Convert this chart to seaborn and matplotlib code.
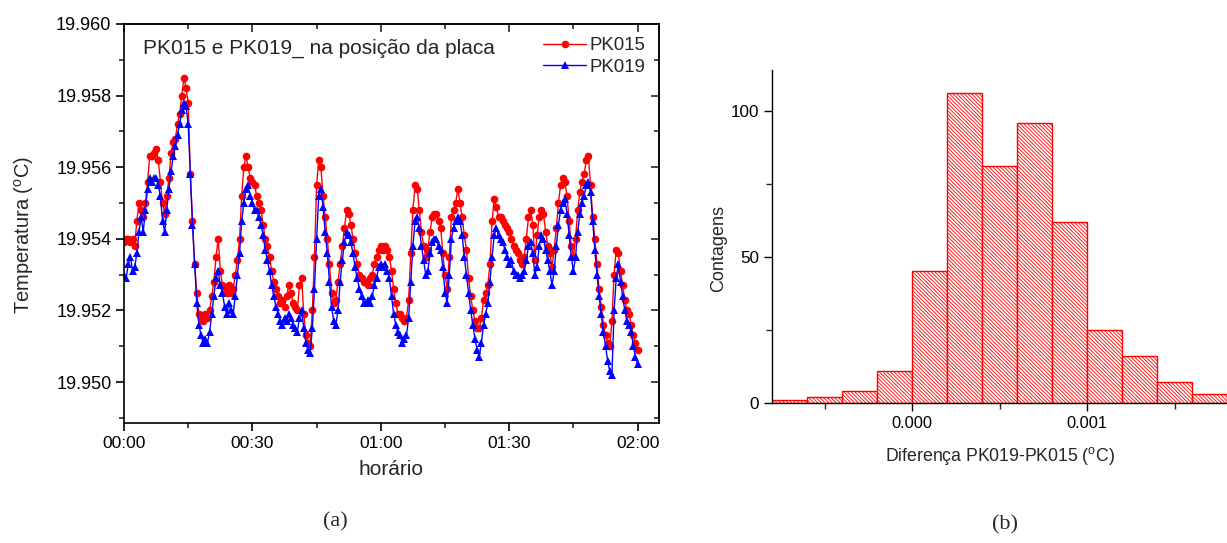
import numpy as np
import pandas as pd
import matplotlib
matplotlib.use("Agg")
import matplotlib.pyplot as plt
import seaborn as sns
from matplotlib.ticker import MultipleLocator, FuncFormatter, FixedLocator

# ---------------- data ----------------
sample_step_min = 0.5
pk015 = [
    19.9539, 19.9540, 19.9540, 19.9539, 19.9540, 19.9538, 19.9545, 19.9550, 19.9548, 19.9546,
    19.9550, 19.9556, 19.9563, 19.9563, 19.9564, 19.9565, 19.9562, 19.9556, 19.9550, 19.9547,
    19.9552, 19.9557, 19.9564, 19.9567, 19.9568, 19.9572, 19.9575, 19.9580, 19.9585, 19.9582,
    19.9578, 19.9558, 19.9545, 19.9533, 19.9525, 19.9519, 19.9518, 19.9517, 19.9519, 19.9518,
    19.9520, 19.9524, 19.9528, 19.9535, 19.9540, 19.9531, 19.9527, 19.9526, 19.9525, 19.9527,
    19.9525, 19.9526, 19.9530, 19.9534, 19.9540, 19.9552, 19.9560, 19.9563, 19.9560, 19.9557,
    19.9556, 19.9555, 19.9552, 19.9550, 19.9548, 19.9544, 19.9540, 19.9538, 19.9535, 19.9531,
    19.9528, 19.9526, 19.9524, 19.9522, 19.9523, 19.9521, 19.9524, 19.9527, 19.9525, 19.9522,
    19.9521, 19.9520, 19.9527, 19.9529, 19.9519, 19.9513, 19.9511, 19.9510, 19.9520, 19.9535,
    19.9555, 19.9562, 19.9560, 19.9552, 19.9546, 19.9540, 19.9533, 19.9525, 19.9522, 19.9523,
    19.9528, 19.9533, 19.9538, 19.9543, 19.9548, 19.9547, 19.9544, 19.9540, 19.9536, 19.9533,
    19.9530, 19.9529, 19.9528, 19.9528, 19.9527, 19.9529, 19.9530, 19.9533, 19.9535, 19.9537,
    19.9538, 19.9537, 19.9538, 19.9537, 19.9535, 19.9531, 19.9526, 19.9522, 19.9519, 19.9519,
    19.9518, 19.9517, 19.9518, 19.9523, 19.9536, 19.9548, 19.9555, 19.9554, 19.9548, 19.9542,
    19.9538, 19.9535, 19.9537, 19.9542, 19.9546, 19.9547, 19.9547, 19.9545, 19.9543, 19.9536,
    19.9530, 19.9526, 19.9535, 19.9546, 19.9548, 19.9550, 19.9554, 19.9550, 19.9546, 19.9541,
    19.9537, 19.9529, 19.9524, 19.9520, 19.9517, 19.9515, 19.9515, 19.9518, 19.9523, 19.9525,
    19.9527, 19.9533, 19.9545, 19.9551, 19.9549, 19.9546, 19.9546, 19.9545, 19.9544, 19.9543,
    19.9542, 19.9540, 19.9538, 19.9537, 19.9536, 19.9534, 19.9533, 19.9535, 19.9540, 19.9546,
    19.9548, 19.9544, 19.9534, 19.9541, 19.9546, 19.9548, 19.9547, 19.9542, 19.9538, 19.9536,
    19.9532, 19.9537, 19.9543, 19.9550, 19.9555, 19.9557, 19.9556, 19.9552, 19.9545, 19.9538,
    19.9535, 19.9540, 19.9548, 19.9553, 19.9556, 19.9558, 19.9562, 19.9563, 19.9555, 19.9546,
    19.9540, 19.9533, 19.9526, 19.9521, 19.9516, 19.9513, 19.9511, 19.9510, 19.9517, 19.9530,
    19.9537, 19.9536, 19.9531, 19.9527, 19.9523, 19.9520, 19.9519, 19.9516, 19.9513, 19.9511,
    19.9509,
]
pk019 = [
    19.9530, 19.9529, 19.9533, 19.9535, 19.9531, 19.9532, 19.9536, 19.9542, 19.9546, 19.9542,
    19.9548, 19.9554, 19.9557, 19.9556, 19.9557, 19.9557, 19.9555, 19.9552, 19.9545, 19.9542,
    19.9548, 19.9554, 19.9559, 19.9563, 19.9566, 19.9569, 19.9572, 19.9576, 19.9578, 19.9577,
    19.9572, 19.9558, 19.9544, 19.9533, 19.9522, 19.9516, 19.9513, 19.9511, 19.9512, 19.9511,
    19.9514, 19.9519, 19.9524, 19.9529, 19.9531, 19.9527, 19.9525, 19.9521, 19.9519, 19.9522,
    19.9520, 19.9519, 19.9524, 19.9530, 19.9536, 19.9545, 19.9550, 19.9554, 19.9555, 19.9552,
    19.9550, 19.9548, 19.9548, 19.9546, 19.9544, 19.9541, 19.9537, 19.9534, 19.9531, 19.9527,
    19.9524, 19.9521, 19.9519, 19.9517, 19.9516, 19.9518, 19.9517, 19.9519, 19.9518, 19.9516,
    19.9515, 19.9514, 19.9518, 19.9520, 19.9515, 19.9511, 19.9509, 19.9508, 19.9515, 19.9526,
    19.9540, 19.9552, 19.9554, 19.9549, 19.9542, 19.9536, 19.9528, 19.9521, 19.9517, 19.9516,
    19.9520, 19.9528, 19.9534, 19.9539, 19.9542, 19.9541, 19.9539, 19.9536, 19.9532, 19.9529,
    19.9526, 19.9524, 19.9522, 19.9522, 19.9523, 19.9522, 19.9524, 19.9527, 19.9529, 19.9532,
    19.9533, 19.9532, 19.9533, 19.9531, 19.9529, 19.9524, 19.9519, 19.9516, 19.9514, 19.9513,
    19.9511, 19.9512, 19.9513, 19.9518, 19.9528, 19.9538, 19.9545, 19.9546, 19.9543, 19.9538,
    19.9534, 19.9530, 19.9531, 19.9536, 19.9539, 19.9540, 19.9540, 19.9538, 19.9537, 19.9532,
    19.9525, 19.9522, 19.9530, 19.9540, 19.9543, 19.9545, 19.9546, 19.9545, 19.9541, 19.9535,
    19.9530, 19.9525, 19.9520, 19.9516, 19.9512, 19.9509, 19.9507, 19.9511, 19.9516, 19.9519,
    19.9522, 19.9528, 19.9535, 19.9541, 19.9543, 19.9541, 19.9540, 19.9539, 19.9537, 19.9535,
    19.9533, 19.9534, 19.9531, 19.9530, 19.9530, 19.9529, 19.9530, 19.9531, 19.9534, 19.9538,
    19.9539, 19.9536, 19.9530, 19.9532, 19.9538, 19.9541, 19.9540, 19.9537, 19.9534, 19.9531,
    19.9527, 19.9531, 19.9538, 19.9544, 19.9548, 19.9550, 19.9551, 19.9547, 19.9541, 19.9535,
    19.9531, 19.9535, 19.9542, 19.9547, 19.9550, 19.9552, 19.9555, 19.9556, 19.9553, 19.9545,
    19.9537, 19.9530, 19.9524, 19.9519, 19.9514, 19.9510, 19.9506, 19.9503, 19.9502, 19.9520,
    19.9529, 19.9533, 19.9528, 19.9524, 19.9520, 19.9517, 19.9516, 19.9514, 19.9510, 19.9507,
    19.9505,
]
time_min = np.arange(len(pk015)) * sample_step_min
time_tick_labels = ["00:00", "00:30", "01:00", "01:30", "02:00"]

hist_edges = [-0.0008, -0.0006, -0.0004, -0.0002, 0.0, 0.0002, 0.0004,
              0.0006, 0.0008, 0.0010, 0.0012, 0.0014, 0.0016, 0.0018]
hist_counts = [1, 2, 4, 11, 45, 106, 81, 96, 62, 25, 16, 7, 3]

# ---------------- style ----------------
sns.set_theme(style="ticks")
plt.rcParams["font.family"] = ["Liberation Sans", "DejaVu Sans"]
plt.rcParams["mathtext.fontset"] = "custom"
plt.rcParams["mathtext.rm"] = "Liberation Sans"
plt.rcParams["mathtext.it"] = "Liberation Sans:italic"
plt.rcParams["hatch.linewidth"] = 0.6
plt.rcParams["axes.linewidth"] = 1.2

W, H = 1227, 543
fig = plt.figure(figsize=(W / 100, H / 100), dpi=100)

# ---------------- panel (a) ----------------
L1, R1, T1, B1 = 124, 658.6, 24, 422.5
ax1 = fig.add_axes([L1 / W, 1 - B1 / H, (R1 - L1) / W, (B1 - T1) / H])
df = pd.DataFrame({"t": time_min, "PK015": pk015, "PK019": pk019})
sns.lineplot(data=df, x="t", y="PK015", ax=ax1, color="#FF0000", marker="o",
             markersize=5.5, markeredgewidth=0, linewidth=1.0, label="PK015")
sns.lineplot(data=df, x="t", y="PK019", ax=ax1, color="#0000FF", marker="^",
             markersize=6.2, markeredgewidth=0, linewidth=1.0, label="PK019")

ax1.set_xlim(0, 124.9)
ax1.set_ylim(19.94887, 19.960)
ax1.xaxis.set_major_locator(FixedLocator([0, 30, 60, 90, 120]))
ax1.xaxis.set_major_formatter(FuncFormatter(
    lambda v, p: time_tick_labels[int(round(v / 30))] if 0 <= round(v / 30) < 5 else ""))
ax1.xaxis.set_minor_locator(MultipleLocator(15))
ax1.yaxis.set_major_locator(MultipleLocator(0.002))
ax1.yaxis.set_minor_locator(MultipleLocator(0.001))
ax1.yaxis.set_major_formatter(FuncFormatter(lambda v, p: f"{v:.3f}"))
ax1.tick_params(which="major", direction="out", length=6, width=1.2, labelsize=13, colors="black")
ax1.tick_params(which="minor", direction="out", length=3.5, width=1.2)
ax1.tick_params(axis="x", labelsize=12.5, pad=4)
ax1.tick_params(axis="y", pad=3)
for s in ax1.spines.values():
    s.set_color("black")
    s.set_linewidth(1.2)

secx = ax1.secondary_xaxis("top")
secx.xaxis.set_major_locator(FixedLocator([0, 30, 60, 90, 120]))
secx.xaxis.set_minor_locator(MultipleLocator(15))
secx.tick_params(which="major", direction="in", length=6, width=1.2, labeltop=False)
secx.tick_params(which="minor", direction="in", length=3.5, width=1.2)
secy = ax1.secondary_yaxis("right")
secy.yaxis.set_major_locator(MultipleLocator(0.002))
secy.yaxis.set_minor_locator(MultipleLocator(0.001))
secy.tick_params(which="major", direction="in", length=6, width=1.2, labelright=False)
secy.tick_params(which="minor", direction="in", length=3.5, width=1.2)

ax1.set_xlabel("horário", fontsize=15, labelpad=6)
ax1.set_ylabel("Temperatura ($^{\\rm o}$C)", fontsize=14.5)
ax1.yaxis.set_label_coords((36 - L1) / (R1 - L1), (B1 - 235) / (B1 - T1))
ax1.text(0.036, 0.94, "PK015 e PK019_ na posição da placa", transform=ax1.transAxes,
         fontsize=15, va="center", ha="left")
leg = ax1.legend(loc="upper right", bbox_to_anchor=(1.0, 1.0), frameon=False,
                 fontsize=13.4, handlelength=2.3, handletextpad=0.2,
                 labelspacing=0.25, borderaxespad=0.3)

# ---------------- panel (b) ----------------
L2, R2, T2, B2 = 772.3, 1227, 70, 402.7
ax2 = fig.add_axes([L2 / W, 1 - B2 / H, (R2 - L2) / W, (B2 - T2) / H])
hist_centers = (np.array(hist_edges[:-1]) + np.array(hist_edges[1:])) / 2
sns.histplot(x=hist_centers, weights=hist_counts, bins=hist_edges, ax=ax2,
             color="red", element="bars", fill=True, linewidth=1.0)
for p in ax2.patches:
    p.set_facecolor("white")
    p.set_edgecolor("#FF0000")
    p.set_alpha(1.0)
    p.set_hatch("\\" * 9)
    p.set_linewidth(1.0)

ax2.set_xlim(-0.0008, 0.0018)
ax2.set_ylim(0, 114)
ax2.xaxis.set_major_locator(FixedLocator([0.0, 0.001]))
ax2.xaxis.set_minor_locator(FixedLocator([-0.0005, 0.0005, 0.0015]))
ax2.xaxis.set_major_formatter(FuncFormatter(lambda v, p: f"{v:.3f}"))
ax2.yaxis.set_major_locator(MultipleLocator(50))
ax2.yaxis.set_minor_locator(MultipleLocator(25))
sns.despine(ax=ax2)
for s in ax2.spines.values():
    s.set_color("black")
    s.set_linewidth(1.0)
ax2.tick_params(which="major", direction="out", length=6, width=1.0, labelsize=12.3, colors="black")
ax2.tick_params(which="minor", direction="out", length=4, width=1.0)
ax2.tick_params(axis="x", labelsize=11.8)
ax2.set_xlabel("Diferença PK019-PK015 ($^{\\rm o}$C)", fontsize=12.7, labelpad=10)
ax2.set_ylabel("Contagens", fontsize=13)
ax2.yaxis.set_label_coords((727 - L2) / (R2 - L2), (B2 - 248) / (B2 - T2))

fig.text(335 / W, 1 - 522 / H, "(a)", family=["Liberation Serif", "DejaVu Serif"],
         fontsize=16, ha="center", va="center")
fig.text(1005 / W, 1 - 525 / H, "(b)", family=["Liberation Serif", "DejaVu Serif"],
         fontsize=16, ha="center", va="center")

fig.savefig("out.png", dpi=100, facecolor="white")
